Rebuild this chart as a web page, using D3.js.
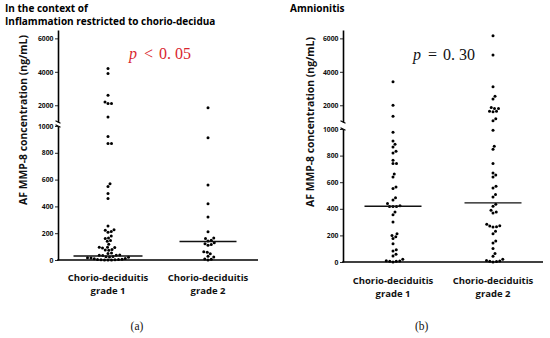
<!DOCTYPE html>
<html>
<head>
<meta charset="utf-8">
<script src="https://cdn.jsdelivr.net/npm/d3@7"></script>
<style>
  body { margin: 0; background: #fff; }
  svg { display: block; }
</style>
</head>
<body>
<div id="chart"></div>
<script>
// AF MMP-8 values (ng/mL)
const categories = [["Chorio-deciduitis", "grade 1"], ["Chorio-deciduitis", "grade 2"]];

const chorioGrade1 = [4200, 3900, 2600, 2200, 2100, 2100, 1300, 922, 870, 870, 569, 549, 496, 459,
    253, 226, 222, 212, 207, 180, 165, 160, 145, 140, 118, 96, 95, 93, 90, 78, 75, 72, 52, 48,
    38, 36, 35, 33, 26, 24, 22, 20, 16, 14, 12, 9, 6, 4, 3, 2, 1, 0, 0, 0];
const chorioGrade2 = [1850, 912, 559, 419, 321, 210, 165, 160, 148, 142, 128, 122, 115, 110,
    62, 58, 47, 28, 22, 8, 5, 0];
const chorioMedians = [30, 138];

const amnionGrade1 = [3400, 2000, 1340, 975, 910, 885, 865, 832, 820, 765, 740, 740, 662, 639,
    564, 552, 484, 466, 439, 422, 418, 418, 418, 376, 356, 301, 213, 200, 190, 176, 138,
    93, 83, 58, 45, 20, 9, 7, 5, 5, 0];
const amnionGrade2 = [6150, 5000, 3100, 2540, 2380, 1860, 1800, 1800, 1640, 1620, 1640, 1190, 1080,
    990, 870, 847, 740, 669, 654, 639, 569, 556, 507, 489, 434, 419, 389, 376, 368,
    283, 272, 270, 265, 263, 231, 213, 158, 143, 101, 63, 43, 20, 12, 8, 5, 3, 0];
const amnionMedians = [419, 445];

const lowerTicks = [0, 200, 400, 600, 800, 1000];
const upperTicks = [2000, 4000, 6000];
const pLabels = [["p", "<", "0. 05"], ["p", "=", "0. 30"]];
const titles = [["In the context of", "Inflammation restricted to chorio-decidua"], ["Amnionitis"]];
const letters = ["(a)", "(b)"];

const svg = d3.select("#chart").append("svg")
    .attr("width", 550)
    .attr("height", 338);

const sans = "'Open Sans', 'Noto Sans', sans-serif";
const serif = "'Liberation Serif', 'DejaVu Serif', serif";

// simple beeswarm: push dots sideways until they stop overlapping
function swarm(values, yOf, d) {
    const pts = values.map(v => ({ v: v, y: yOf(v), dx: 0 })).sort((a, b) => b.y - a.y);
    const placed = [];
    pts.forEach(p => {
        for (let k = 0; k < 600; k++) {
            const off = (k % 2 ? 1 : -1) * Math.ceil(k / 2) * 0.25;
            const hit = placed.some(q => {
                const dy = q.y - p.y;
                return Math.abs(dy) < d && (q.dx - off) * (q.dx - off) + dy * dy < d * d;
            });
            if (!hit) { p.dx = off; break; }
        }
        placed.push(p);
    });
    return pts;
}

function drawPanel(cfg) {
    const g = svg.append("g");

    const x = d3.scalePoint()
        .domain([0, 1])
        .range([cfg.x0, cfg.x1])
        .padding(0.5);

    const yLow = d3.scaleLinear().domain([0, 1000]).range([cfg.base, cfg.lowTop]);
    const yUp = d3.scaleLinear().domain([1000, 6500]).range([cfg.upBottom, cfg.top]);
    const yOf = v => v > 1000 ? yUp(v) : yLow(v);

    // axes (broken y axis)
    const upAxis = g.append("g")
        .attr("transform", "translate(" + cfg.x0 + ",0)")
        .call(d3.axisLeft(yUp).tickValues(upperTicks).tickFormat(d3.format("d"))
            .tickSize(3).tickPadding(1.5).tickSizeOuter(0));
    const lowAxis = g.append("g")
        .attr("transform", "translate(" + cfg.x0 + ",0)")
        .call(d3.axisLeft(yLow).tickValues(lowerTicks).tickFormat(d3.format("d"))
            .tickSize(3).tickPadding(1.5).tickSizeOuter(0));

    [upAxis, lowAxis].forEach(a => {
        a.select(".domain").attr("stroke", "#000").attr("stroke-width", 1.6);
        a.selectAll(".tick line").attr("stroke", "#111").attr("stroke-width", 0.9);
        a.selectAll(".tick text")
            .attr("font-family", sans)
            .attr("font-weight", "bold")
            .attr("font-size", 6.8)
            .attr("fill", "#111");
    });

    // break marks
    [cfg.upBottom, cfg.lowTop].forEach(yy => {
        g.append("line")
            .attr("x1", cfg.x0 - 2.5).attr("y1", yy - 1.2)
            .attr("x2", cfg.x0 + 2.5).attr("y2", yy + 1.2)
            .attr("stroke", "#000").attr("stroke-width", 1.1);
    });

    // x axis baseline
    g.append("line")
        .attr("x1", cfg.x0 - 0.8).attr("x2", cfg.x1)
        .attr("y1", cfg.base).attr("y2", cfg.base)
        .attr("stroke", "#000").attr("stroke-width", 1.6);

    // dots and medians
    cfg.groups.forEach((vals, i) => {
        const pts = swarm(vals, yOf, 3.3);
        g.append("g").selectAll("circle")
            .data(pts)
            .join("circle")
            .attr("cx", d => x(i) + d.dx)
            .attr("cy", d => d.y)
            .attr("r", 1.5)
            .attr("fill", "#000");

        const spread = d3.max(pts, d => Math.abs(d.dx));
        const half = Math.max(28.5, spread + 14);
        g.append("line")
            .attr("x1", x(i) - half).attr("x2", x(i) + half)
            .attr("y1", yOf(cfg.medians[i])).attr("y2", yOf(cfg.medians[i]))
            .attr("stroke", "#111").attr("stroke-width", 1.3);
    });

    // category labels, one text per line
    categories.forEach((lines, i) => {
        lines.forEach((s, j) => {
            g.append("text")
                .attr("x", x(i))
                .attr("y", cfg.catY + j * 13)
                .attr("text-anchor", "middle")
                .attr("font-family", sans)
                .attr("font-weight", "bold")
                .attr("font-size", 9.5)
                .attr("fill", "#111")
                .text(s);
        });
    });

    // y axis title
    g.append("text")
        .attr("transform", "translate(" + cfg.ylabX + "," + cfg.ylabY + ") rotate(-90)")
        .attr("text-anchor", "middle")
        .attr("font-family", sans)
        .attr("font-weight", "bold")
        .attr("font-size", 10.4)
        .attr("fill", "#111")
        .text("AF MMP-8 concentration (ng/mL)");

    // panel title
    cfg.title.forEach((s, j) => {
        g.append("text")
            .attr("x", cfg.titleX).attr("y", 11.7 + j * 12.8)
            .attr("font-family", sans)
            .attr("font-weight", "bold")
            .attr("font-size", 10)
            .attr("fill", "#000")
            .text(s);
    });

    // p value
    const pt = g.append("text")
        .attr("x", cfg.pX).attr("y", cfg.pY)
        .attr("font-family", serif)
        .attr("font-size", 16)
        .attr("fill", cfg.pColor);
    pt.append("tspan").attr("font-style", "italic").text(cfg.p[0]);
    pt.append("tspan").attr("dx", 7).text(cfg.p[1]);
    pt.append("tspan").attr("dx", 6).text(cfg.p[2]);

    // panel letter
    g.append("text")
        .attr("x", cfg.letterX).attr("y", 330)
        .attr("text-anchor", "middle")
        .attr("font-family", serif)
        .attr("font-size", 11.5)
        .attr("fill", "#111")
        .text(cfg.letter);
}

drawPanel({
    x0: 58, x1: 258, base: 260, lowTop: 126, upBottom: 122, top: 30,
    groups: [chorioGrade1, chorioGrade2], medians: chorioMedians,
    catY: 280.5, ylabX: 27, ylabY: 120, title: titles[0], titleX: 5,
    p: pLabels[0], pX: 129, pY: 59.3, pColor: "#d9262e",
    letter: letters[0], letterX: 137
});

drawPanel({
    x0: 343, x1: 543, base: 262, lowTop: 129, upBottom: 122, top: 30,
    groups: [amnionGrade1, amnionGrade2], medians: amnionMedians,
    catY: 283.5, ylabX: 314, ylabY: 122, title: titles[1], titleX: 290,
    p: pLabels[1], pX: 413, pY: 60, pColor: "#111",
    letter: letters[1], letterX: 421.7
});
</script>
</body>
</html>
